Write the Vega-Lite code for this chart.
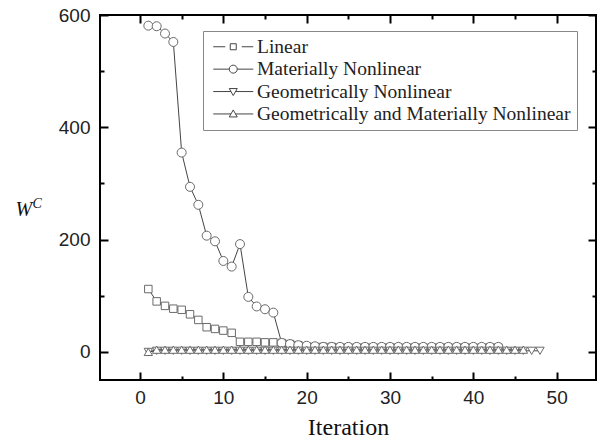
{
  "$schema": "https://vega.github.io/schema/vega-lite/v6.json",
  "width": 496,
  "height": 365,
  "autosize": {"type": "none"},
  "padding": {"left": 100, "top": 15, "right": 3, "bottom": 63},
  "background": "white",
  "config": {
    "view": {"stroke": "black", "strokeWidth": 2},
    "axis": {
      "domain": false,
      "grid": false,
      "tickColor": "black",
      "tickWidth": 2,
      "labelFont": "Liberation Sans",
      "labelFontSize": 19,
      "labelColor": "#222",
      "titleFont": "Liberation Serif",
      "titleFontWeight": "normal",
      "titleColor": "#111"
    },
    "legend": {
      "orient": "none",
      "legendX": 103,
      "legendY": 16,
      "padding": 6,
      "strokeColor": "#888",
      "strokeWidth": 1,
      "symbolSize": 100,
      "symbolOffset": 14.5,
      "symbolStrokeWidth": 1,
      "labelFont": "Liberation Serif",
      "labelFontSize": 19.5,
      "labelColor": "#222",
      "labelOffset": 14,
      "labelLimit": 0,
      "rowPadding": 1.4,
      "titleFontSize": 0
    }
  },
  "data": {
    "values": [
      {"s": "Linear", "i": 1, "w": 112},
      {"s": "Linear", "i": 2, "w": 90},
      {"s": "Linear", "i": 3, "w": 82},
      {"s": "Linear", "i": 4, "w": 77},
      {"s": "Linear", "i": 5, "w": 75},
      {"s": "Linear", "i": 6, "w": 67},
      {"s": "Linear", "i": 7, "w": 57},
      {"s": "Linear", "i": 8, "w": 44},
      {"s": "Linear", "i": 9, "w": 41},
      {"s": "Linear", "i": 10, "w": 38},
      {"s": "Linear", "i": 11, "w": 34},
      {"s": "Linear", "i": 12, "w": 18},
      {"s": "Linear", "i": 13, "w": 18},
      {"s": "Linear", "i": 14, "w": 18},
      {"s": "Linear", "i": 15, "w": 17},
      {"s": "Linear", "i": 16, "w": 17},
      {"s": "Linear", "i": 17, "w": 16},
      {"s": "Linear", "i": 18, "w": 14},
      {"s": "Linear", "i": 19, "w": 12},
      {"s": "Linear", "i": 20, "w": 10},
      {"s": "Linear", "i": 21, "w": 9},
      {"s": "Linear", "i": 22, "w": 9},
      {"s": "Linear", "i": 23, "w": 9},
      {"s": "Linear", "i": 24, "w": 8},
      {"s": "Linear", "i": 25, "w": 8},
      {"s": "Linear", "i": 26, "w": 8},
      {"s": "Linear", "i": 27, "w": 8},
      {"s": "Linear", "i": 28, "w": 8},
      {"s": "Linear", "i": 29, "w": 8},
      {"s": "Linear", "i": 30, "w": 8},
      {"s": "Linear", "i": 31, "w": 8},
      {"s": "Linear", "i": 32, "w": 8},
      {"s": "Linear", "i": 33, "w": 8},
      {"s": "Linear", "i": 34, "w": 8},
      {"s": "Linear", "i": 35, "w": 8},
      {"s": "Linear", "i": 36, "w": 8},
      {"s": "Linear", "i": 37, "w": 8},
      {"s": "Linear", "i": 38, "w": 8},
      {"s": "Linear", "i": 39, "w": 8},
      {"s": "Linear", "i": 40, "w": 8},
      {"s": "Linear", "i": 41, "w": 8},
      {"s": "Linear", "i": 42, "w": 8},
      {"s": "Linear", "i": 43, "w": 8},
      {"s": "Materially Nonlinear", "i": 1, "w": 581},
      {"s": "Materially Nonlinear", "i": 2, "w": 580},
      {"s": "Materially Nonlinear", "i": 3, "w": 567},
      {"s": "Materially Nonlinear", "i": 4, "w": 552},
      {"s": "Materially Nonlinear", "i": 5, "w": 355},
      {"s": "Materially Nonlinear", "i": 6, "w": 294},
      {"s": "Materially Nonlinear", "i": 7, "w": 262},
      {"s": "Materially Nonlinear", "i": 8, "w": 207},
      {"s": "Materially Nonlinear", "i": 9, "w": 197},
      {"s": "Materially Nonlinear", "i": 10, "w": 162},
      {"s": "Materially Nonlinear", "i": 11, "w": 152},
      {"s": "Materially Nonlinear", "i": 12, "w": 192},
      {"s": "Materially Nonlinear", "i": 13, "w": 98},
      {"s": "Materially Nonlinear", "i": 14, "w": 81},
      {"s": "Materially Nonlinear", "i": 15, "w": 76},
      {"s": "Materially Nonlinear", "i": 16, "w": 70},
      {"s": "Materially Nonlinear", "i": 17, "w": 16},
      {"s": "Materially Nonlinear", "i": 18, "w": 14},
      {"s": "Materially Nonlinear", "i": 19, "w": 12},
      {"s": "Materially Nonlinear", "i": 20, "w": 11},
      {"s": "Materially Nonlinear", "i": 21, "w": 10},
      {"s": "Materially Nonlinear", "i": 22, "w": 9},
      {"s": "Materially Nonlinear", "i": 23, "w": 9},
      {"s": "Materially Nonlinear", "i": 24, "w": 9},
      {"s": "Materially Nonlinear", "i": 25, "w": 9},
      {"s": "Materially Nonlinear", "i": 26, "w": 9},
      {"s": "Materially Nonlinear", "i": 27, "w": 9},
      {"s": "Materially Nonlinear", "i": 28, "w": 9},
      {"s": "Materially Nonlinear", "i": 29, "w": 9},
      {"s": "Materially Nonlinear", "i": 30, "w": 9},
      {"s": "Materially Nonlinear", "i": 31, "w": 9},
      {"s": "Materially Nonlinear", "i": 32, "w": 9},
      {"s": "Materially Nonlinear", "i": 33, "w": 9},
      {"s": "Materially Nonlinear", "i": 34, "w": 9},
      {"s": "Materially Nonlinear", "i": 35, "w": 9},
      {"s": "Materially Nonlinear", "i": 36, "w": 9},
      {"s": "Materially Nonlinear", "i": 37, "w": 9},
      {"s": "Materially Nonlinear", "i": 38, "w": 9},
      {"s": "Materially Nonlinear", "i": 39, "w": 9},
      {"s": "Materially Nonlinear", "i": 40, "w": 9},
      {"s": "Materially Nonlinear", "i": 41, "w": 9},
      {"s": "Materially Nonlinear", "i": 42, "w": 9},
      {"s": "Materially Nonlinear", "i": 43, "w": 9},
      {"s": "Geometrically Nonlinear", "i": 1, "w": 0},
      {"s": "Geometrically Nonlinear", "i": 2, "w": 2},
      {"s": "Geometrically Nonlinear", "i": 3, "w": 2},
      {"s": "Geometrically Nonlinear", "i": 4, "w": 2},
      {"s": "Geometrically Nonlinear", "i": 5, "w": 2},
      {"s": "Geometrically Nonlinear", "i": 6, "w": 2},
      {"s": "Geometrically Nonlinear", "i": 7, "w": 2},
      {"s": "Geometrically Nonlinear", "i": 8, "w": 2},
      {"s": "Geometrically Nonlinear", "i": 9, "w": 2},
      {"s": "Geometrically Nonlinear", "i": 10, "w": 2},
      {"s": "Geometrically Nonlinear", "i": 11, "w": 2},
      {"s": "Geometrically Nonlinear", "i": 12, "w": 2},
      {"s": "Geometrically Nonlinear", "i": 13, "w": 2},
      {"s": "Geometrically Nonlinear", "i": 14, "w": 2},
      {"s": "Geometrically Nonlinear", "i": 15, "w": 2},
      {"s": "Geometrically Nonlinear", "i": 16, "w": 2},
      {"s": "Geometrically Nonlinear", "i": 17, "w": 2},
      {"s": "Geometrically Nonlinear", "i": 18, "w": 2},
      {"s": "Geometrically Nonlinear", "i": 19, "w": 2},
      {"s": "Geometrically Nonlinear", "i": 20, "w": 2},
      {"s": "Geometrically Nonlinear", "i": 21, "w": 2},
      {"s": "Geometrically Nonlinear", "i": 22, "w": 2},
      {"s": "Geometrically Nonlinear", "i": 23, "w": 2},
      {"s": "Geometrically Nonlinear", "i": 24, "w": 2},
      {"s": "Geometrically Nonlinear", "i": 25, "w": 2},
      {"s": "Geometrically Nonlinear", "i": 26, "w": 2},
      {"s": "Geometrically Nonlinear", "i": 27, "w": 2},
      {"s": "Geometrically Nonlinear", "i": 28, "w": 2},
      {"s": "Geometrically Nonlinear", "i": 29, "w": 2},
      {"s": "Geometrically Nonlinear", "i": 30, "w": 2},
      {"s": "Geometrically Nonlinear", "i": 31, "w": 2},
      {"s": "Geometrically Nonlinear", "i": 32, "w": 2},
      {"s": "Geometrically Nonlinear", "i": 33, "w": 2},
      {"s": "Geometrically Nonlinear", "i": 34, "w": 2},
      {"s": "Geometrically Nonlinear", "i": 35, "w": 2},
      {"s": "Geometrically Nonlinear", "i": 36, "w": 2},
      {"s": "Geometrically Nonlinear", "i": 37, "w": 2},
      {"s": "Geometrically Nonlinear", "i": 38, "w": 2},
      {"s": "Geometrically Nonlinear", "i": 39, "w": 2},
      {"s": "Geometrically Nonlinear", "i": 40, "w": 2},
      {"s": "Geometrically Nonlinear", "i": 41, "w": 2},
      {"s": "Geometrically Nonlinear", "i": 42, "w": 2},
      {"s": "Geometrically Nonlinear", "i": 43, "w": 2},
      {"s": "Geometrically Nonlinear", "i": 44, "w": 2},
      {"s": "Geometrically Nonlinear", "i": 45, "w": 2},
      {"s": "Geometrically Nonlinear", "i": 46, "w": 2},
      {"s": "Geometrically Nonlinear", "i": 47, "w": 2},
      {"s": "Geometrically Nonlinear", "i": 48, "w": 2},
      {"s": "Geometrically and Materially Nonlinear", "i": 1, "w": 0},
      {"s": "Geometrically and Materially Nonlinear", "i": 2, "w": 4},
      {"s": "Geometrically and Materially Nonlinear", "i": 3, "w": 4},
      {"s": "Geometrically and Materially Nonlinear", "i": 4, "w": 4},
      {"s": "Geometrically and Materially Nonlinear", "i": 5, "w": 4},
      {"s": "Geometrically and Materially Nonlinear", "i": 6, "w": 4},
      {"s": "Geometrically and Materially Nonlinear", "i": 7, "w": 4},
      {"s": "Geometrically and Materially Nonlinear", "i": 8, "w": 4},
      {"s": "Geometrically and Materially Nonlinear", "i": 9, "w": 4},
      {"s": "Geometrically and Materially Nonlinear", "i": 10, "w": 4},
      {"s": "Geometrically and Materially Nonlinear", "i": 11, "w": 4},
      {"s": "Geometrically and Materially Nonlinear", "i": 12, "w": 4},
      {"s": "Geometrically and Materially Nonlinear", "i": 13, "w": 4},
      {"s": "Geometrically and Materially Nonlinear", "i": 14, "w": 4},
      {"s": "Geometrically and Materially Nonlinear", "i": 15, "w": 4},
      {"s": "Geometrically and Materially Nonlinear", "i": 16, "w": 4},
      {"s": "Geometrically and Materially Nonlinear", "i": 17, "w": 4},
      {"s": "Geometrically and Materially Nonlinear", "i": 18, "w": 4},
      {"s": "Geometrically and Materially Nonlinear", "i": 19, "w": 4},
      {"s": "Geometrically and Materially Nonlinear", "i": 20, "w": 4},
      {"s": "Geometrically and Materially Nonlinear", "i": 21, "w": 4},
      {"s": "Geometrically and Materially Nonlinear", "i": 22, "w": 4},
      {"s": "Geometrically and Materially Nonlinear", "i": 23, "w": 4},
      {"s": "Geometrically and Materially Nonlinear", "i": 24, "w": 4},
      {"s": "Geometrically and Materially Nonlinear", "i": 25, "w": 4},
      {"s": "Geometrically and Materially Nonlinear", "i": 26, "w": 4},
      {"s": "Geometrically and Materially Nonlinear", "i": 27, "w": 4},
      {"s": "Geometrically and Materially Nonlinear", "i": 28, "w": 4},
      {"s": "Geometrically and Materially Nonlinear", "i": 29, "w": 4},
      {"s": "Geometrically and Materially Nonlinear", "i": 30, "w": 4},
      {"s": "Geometrically and Materially Nonlinear", "i": 31, "w": 4},
      {"s": "Geometrically and Materially Nonlinear", "i": 32, "w": 4},
      {"s": "Geometrically and Materially Nonlinear", "i": 33, "w": 4},
      {"s": "Geometrically and Materially Nonlinear", "i": 34, "w": 4},
      {"s": "Geometrically and Materially Nonlinear", "i": 35, "w": 4},
      {"s": "Geometrically and Materially Nonlinear", "i": 36, "w": 4},
      {"s": "Geometrically and Materially Nonlinear", "i": 37, "w": 4},
      {"s": "Geometrically and Materially Nonlinear", "i": 38, "w": 4},
      {"s": "Geometrically and Materially Nonlinear", "i": 39, "w": 4},
      {"s": "Geometrically and Materially Nonlinear", "i": 40, "w": 4},
      {"s": "Geometrically and Materially Nonlinear", "i": 41, "w": 4},
      {"s": "Geometrically and Materially Nonlinear", "i": 42, "w": 4},
      {"s": "Geometrically and Materially Nonlinear", "i": 43, "w": 4},
      {"s": "Geometrically and Materially Nonlinear", "i": 44, "w": 4},
      {"s": "Geometrically and Materially Nonlinear", "i": 45, "w": 4},
      {"s": "Geometrically and Materially Nonlinear", "i": 46, "w": 4}
    ]
  },
  "layer": [
    {
      "mark": {"type": "line", "strokeWidth": 1},
      "encoding": {
        "x": {
          "field": "i", "type": "quantitative",
          "scale": {"domain": [-4.8, 54.72], "nice": false, "zero": false},
          "axis": {
            "orient": "bottom",
            "values": [0, 5, 10, 15, 20, 25, 30, 35, 40, 45, 50],
            "labelExpr": "datum.value % 10 === 0 ? datum.label : ''",
            "tickSize": {"condition": {"test": "datum.value % 10 === 0", "value": -8}, "value": -4},
            "labelPadding": 16,
            "title": "Iteration",
            "titleFontSize": 24,
            "titlePadding": 8
          }
        },
        "y": {
          "field": "w", "type": "quantitative",
          "scale": {"domain": [-50, 600], "nice": false, "zero": false},
          "axis": {
            "orient": "left",
            "values": [0, 100, 200, 300, 400, 500, 600],
            "labelExpr": "datum.value % 200 === 0 ? datum.label : ''",
            "tickSize": {"condition": {"test": "datum.value % 200 === 0", "value": -8}, "value": -4},
            "labelPadding": 18,
            "title": "W",
            "titleAngle": 0,
            "titleFontStyle": "italic",
            "titleFontSize": 20,
            "titleAlign": "left",
            "titleBaseline": "alphabetic",
            "titleX": -85,
            "titleY": 200
          }
        },
        "color": {
          "field": "s", "type": "nominal",
          "scale": {
            "domain": ["Linear", "Materially Nonlinear", "Geometrically Nonlinear", "Geometrically and Materially Nonlinear"],
            "range": ["#444444", "#444444", "#444444", "#444444"]
          },
          "legend": {
            "title": null,
            "encode": {
              "symbols": {
                "update": {
                  "shape": {"signal": "datum.value === 'Linear' ? 'M-4,0H-1.6M1.7,0H4M-0.6,-0.6H0.6V0.6H-0.6Z' : datum.value === 'Materially Nonlinear' ? 'M-4,0H-0.8M0.8,0H4M0.8,0A0.8,0.8,0,1,1,-0.8,0A0.8,0.8,0,1,1,0.8,0Z' : datum.value === 'Geometrically Nonlinear' ? 'M-4,0H-0.46M0.46,0H4M-0.8,-0.6H0.8L0,0.8Z' : 'M-4,0H-0.46M0.46,0H4M-0.8,0.6H0.8L0,-0.8Z'"},
                  "fill": {"value": "white"},
                  "stroke": {"value": "#555555"},
                  "strokeWidth": {"value": 1},
                  "size": {"value": 100},
                  "opacity": {"value": 1}
                }
              }
            }
          }
        }
      }
    },
    {
      "mark": {"type": "point", "filled": true, "fill": "white", "stroke": "#6a6a6a", "strokeWidth": 1, "opacity": 1},
      "encoding": {
        "x": {"field": "i", "type": "quantitative", "scale": {"domain": [-4.8, 54.72], "nice": false, "zero": false}, "axis": null},
        "y": {"field": "w", "type": "quantitative", "scale": {"domain": [-50, 600], "nice": false, "zero": false}, "axis": null},
        "shape": {
          "condition": [
            {"test": "datum.s === 'Linear'", "value": "square"},
            {"test": "datum.s === 'Materially Nonlinear'", "value": "circle"},
            {"test": "datum.s === 'Geometrically Nonlinear'", "value": "triangle-down"}
          ],
          "value": "triangle-up"
        },
        "size": {
          "condition": [
            {"test": "datum.s === 'Linear'", "value": 56},
            {"test": "datum.s === 'Materially Nonlinear'", "value": 81}
          ],
          "value": 70
        }
      }
    },
    {
      "mark": {"type": "point", "opacity": 0},
      "encoding": {
        "x": {
          "field": "i", "type": "quantitative",
          "scale": {"domain": [-4.8, 54.72], "nice": false, "zero": false},
          "axis": {
            "orient": "top",
            "values": [0, 5, 10, 15, 20, 25, 30, 35, 40, 45, 50],
            "labels": false,
            "title": null,
            "tickSize": {"condition": {"test": "datum.value % 10 === 0", "value": -8}, "value": -4}
          }
        },
        "y": {
          "field": "w", "type": "quantitative",
          "scale": {"domain": [-50, 600], "nice": false, "zero": false},
          "axis": {
            "orient": "right",
            "values": [0, 100, 200, 300, 400, 500, 600],
            "labels": false,
            "tickSize": {"condition": {"test": "datum.value % 200 === 0", "value": -8}, "value": -4},
            "title": "C",
            "titleAngle": 0,
            "titleFont": "Liberation Serif",
            "titleFontStyle": "italic",
            "titleFontSize": 14,
            "titleAlign": "left",
            "titleBaseline": "alphabetic",
            "titleX": -564,
            "titleY": 192
          }
        }
      }
    }
  ],
  "resolve": {"axis": {"x": "independent", "y": "independent"}}
}
